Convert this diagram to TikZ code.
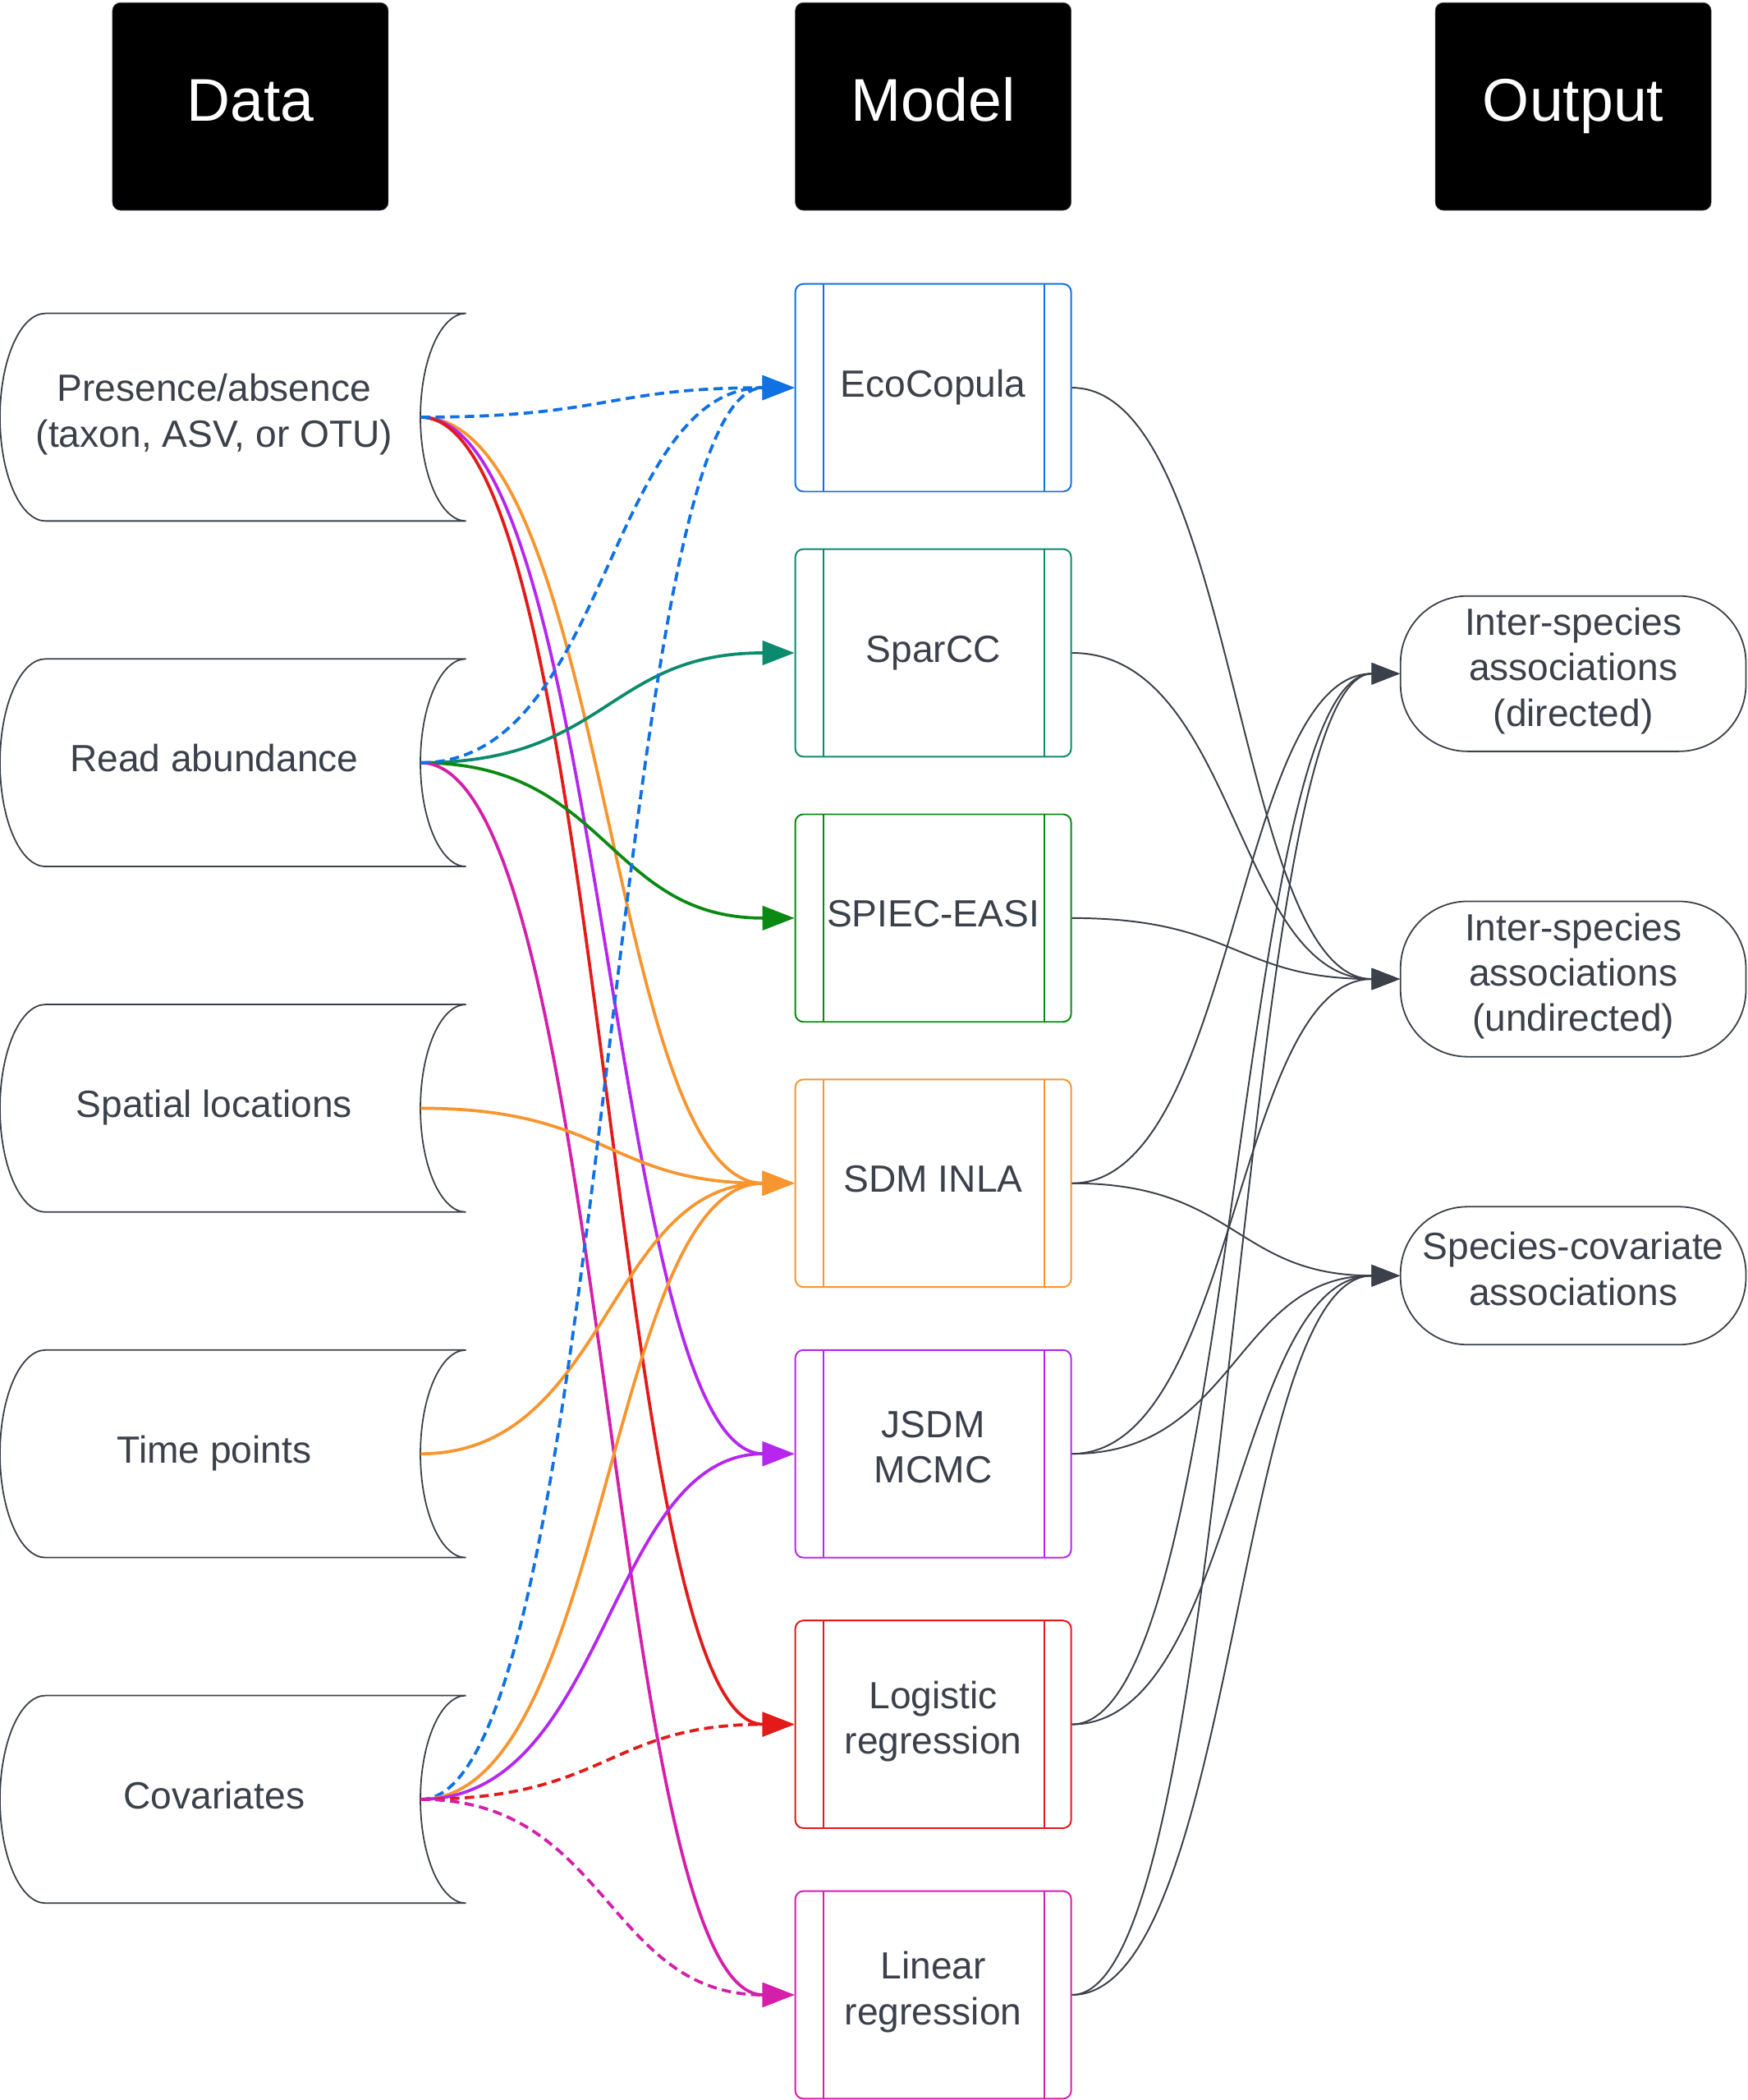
\documentclass[tikz,border=0pt]{standalone}
\usepackage{fontspec}
\setmainfont{Liberation Sans}
\usetikzlibrary{arrows.meta,calc}
\definecolor{txt}{HTML}{3A414A}
\definecolor{cblue}{HTML}{1071E5}
\definecolor{cteal}{HTML}{0C8A6E}
\definecolor{cgreen}{HTML}{0A8A12}
\definecolor{corange}{HTML}{F7952F}
\definecolor{cpurple}{HTML}{B627EE}
\definecolor{cred}{HTML}{E31A1A}
\definecolor{cmag}{HTML}{D41FAA}
\newcommand\datacyl[3]{%
  \draw[cylline] (348,{-#2+77.5}) -- (34,{-#2+77.5})
    arc[start angle=90,end angle=270,x radius=34,y radius=77.5]
    -- (348,{-#2-77.5})
    arc[start angle=270,end angle=90,x radius=34,y radius=77.5];
  \node[cylbox] (#1) at (160,-#2) {#3};}
\begin{document}
\begin{tikzpicture}[x=1pt,y=1pt,
  bodyfont/.style={font=\fontsize{28.3pt}{34pt}\selectfont, text=txt, align=center,
    execute at begin node=\strut, execute at end node=\strut},
  hdr/.style={draw=txt, fill=black, rounded corners=6pt, minimum width=206pt,
    minimum height=155pt, inner sep=0pt, text=white, font=\fontsize{45pt}{54pt}\selectfont,
    execute at begin node=\strut},
  cylline/.style={draw=txt, line width=1.1pt},
  cylbox/.style={bodyfont, minimum width=308pt, minimum height=155pt, inner sep=0pt},
  mbox/.style={bodyfont, draw=#1, line width=1.2pt, rounded corners=6pt,
    minimum width=206pt, minimum height=155pt, inner sep=0pt,
    path picture={
      \draw[#1, line width=1.2pt, sharp corners]
        ($(path picture bounding box.north west)+(21,0)$) -- ($(path picture bounding box.south west)+(21,0)$)
        ($(path picture bounding box.north east)+(-20,0)$) -- ($(path picture bounding box.south east)+(-20,0)$);}},
  obox/.style={bodyfont, draw=txt, line width=1.1pt, rounded corners=50pt,
    minimum width=258pt, inner sep=0pt},
  lc/.style={line width=2.3pt, draw=#1, -{Triangle[length=24pt,width=18pt,fill=#1]}},
  dsh/.style={dash pattern=on 7pt off 4pt},
  rc/.style={line width=1.2pt, draw=txt, -{Triangle[length=21pt,width=16pt,fill=txt]}}
]
\useasboundingbox (0,0) rectangle (1305,-1568);

% headers
\node[hdr] (hdata) at (187,-79.5) {Data};
\node[hdr] (hmodel) at (697,-79.5) {Model};
\node[hdr] (houtput) at (1175,-79.5) {Output};

% data
\datacyl{pa}{311.5}{Presence/absence\\(taxon, ASV, or OTU)}
\datacyl{ra}{569.5}{Read abundance}
\datacyl{sl}{827.5}{Spatial locations}
\datacyl{tp}{1085.5}{Time points}
\datacyl{cv}{1343.5}{Covariates}

% models
\node[mbox=cblue] (eco) at (697,-289.5) {EcoCopula};
\node[mbox=cteal] (spa) at (697,-487.5) {SparCC};
\node[mbox=cgreen] (spi) at (697,-685.5) {SPIEC-EASI};
\node[mbox=corange] (sdm) at (697,-883.5) {SDM INLA};
\node[mbox=cpurple] (jsdm) at (697,-1085.5) {JSDM\\MCMC};
\node[mbox=cred] (logr) at (697,-1287.5) {Logistic\\regression};
\node[mbox=cmag] (linr) at (697,-1489.5) {Linear\\regression};

% outputs
\node[obox, minimum height=116pt] (dir) at (1175,-503) {Inter-species\\associations\\(directed)};
\node[obox, minimum height=116pt] (und) at (1175,-731) {Inter-species\\associations\\(undirected)};
\node[obox, minimum height=103pt] (scv) at (1175,-952.5) {Species-covariate\\associations};

% data -> model
\draw[lc=corange] (pa.east) .. controls +(140,0) and +(-140,0) .. (sdm.west);
\draw[lc=cpurple] (pa.east) .. controls +(140,0) and +(-140,0) .. (jsdm.west);
\draw[lc=cred] (pa.east) .. controls +(140,0) and +(-140,0) .. (logr.west);
\draw[lc=cblue,dsh] (pa.east) .. controls +(140,0) and +(-140,0) .. (eco.west);

\draw[lc=cteal] (ra.east) .. controls +(140,0) and +(-140,0) .. (spa.west);
\draw[lc=cgreen] (ra.east) .. controls +(140,0) and +(-140,0) .. (spi.west);
\draw[lc=cmag] (ra.east) .. controls +(140,0) and +(-140,0) .. (linr.west);
\draw[lc=cblue,dsh] (ra.east) .. controls +(140,0) and +(-140,0) .. (eco.west);

\draw[lc=corange] (sl.east) .. controls +(140,0) and +(-140,0) .. (sdm.west);
\draw[lc=corange] (tp.east) .. controls +(140,0) and +(-140,0) .. (sdm.west);

\draw[lc=cblue,dsh] (cv.east) .. controls +(140,0) and +(-140,0) .. (eco.west);
\draw[lc=corange] (cv.east) .. controls +(140,0) and +(-140,0) .. (sdm.west);
\draw[lc=cpurple] (cv.east) .. controls +(140,0) and +(-140,0) .. (jsdm.west);
\draw[lc=cred,dsh] (cv.east) .. controls +(140,0) and +(-140,0) .. (logr.west);
\draw[lc=cmag,dsh] (cv.east) .. controls +(140,0) and +(-140,0) .. (linr.west);

% model -> output
\draw[rc] (eco.east) .. controls +(123,0) and +(-123,0) .. (und.west);
\draw[rc] (spa.east) .. controls +(123,0) and +(-123,0) .. (und.west);
\draw[rc] (spi.east) .. controls +(123,0) and +(-123,0) .. (und.west);
\draw[rc] (sdm.east) .. controls +(123,0) and +(-123,0) .. (dir.west);
\draw[rc] (sdm.east) .. controls +(123,0) and +(-123,0) .. (scv.west);
\draw[rc] (jsdm.east) .. controls +(123,0) and +(-123,0) .. (und.west);
\draw[rc] (jsdm.east) .. controls +(123,0) and +(-123,0) .. (scv.west);
\draw[rc] (logr.east) .. controls +(123,0) and +(-123,0) .. (dir.west);
\draw[rc] (logr.east) .. controls +(123,0) and +(-123,0) .. (scv.west);
\draw[rc] (linr.east) .. controls +(123,0) and +(-123,0) .. (dir.west);
\draw[rc] (linr.east) .. controls +(123,0) and +(-123,0) .. (scv.west);
\end{tikzpicture}
\end{document}
